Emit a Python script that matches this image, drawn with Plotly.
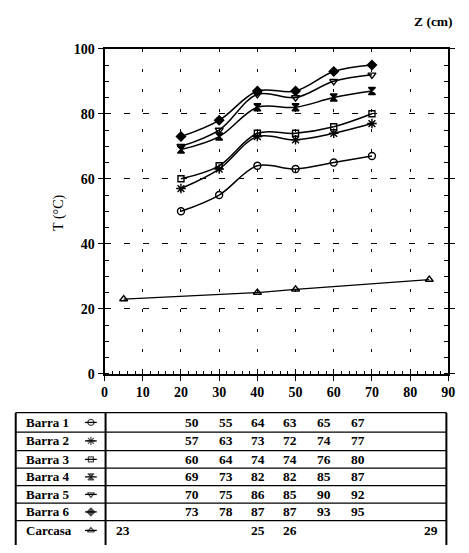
import plotly.graph_objects as go

# Temperature profiles along the bar axis (Z in cm, T in degC)
z_bar = [20, 30, 40, 50, 60, 70]
barra1 = [50, 55, 64, 63, 65, 67]
barra2 = [57, 63, 73, 72, 74, 77]
barra3 = [60, 64, 74, 74, 76, 80]
barra4 = [69, 73, 82, 82, 85, 87]
barra5 = [70, 75, 86, 85, 90, 92]
barra6 = [73, 78, 87, 87, 93, 95]
z_carcasa = [5, 40, 50, 85]
carcasa = [23, 25, 26, 29]

series = [
    ("Barra 1", z_bar, barra1, "circle-open", 7),
    ("Barra 2", z_bar, barra2, "asterisk-open", 8),
    ("Barra 3", z_bar, barra3, "square-open", 6),
    ("Barra 4", z_bar, barra4, "hourglass", 7),
    ("Barra 5", z_bar, barra5, "triangle-down-open", 7),
    ("Barra 6", z_bar, barra6, "diamond", 7),
    ("Carcasa", z_carcasa, carcasa, "triangle-up-open", 7),
]

W, H = 469, 553
# plot frame in pixels
PL, PR, PT, PB = 103, 455, 43, 377
SERIF = "Liberation Serif"

fig = go.Figure()

for name, zs, ts, sym, size in series:
    fig.add_trace(go.Scatter(
        x=zs, y=ts, name=name, mode="lines+markers",
        line=dict(color="black", width=1.5 if name != "Carcasa" else 1.2,
                  shape="linear" if name == "Carcasa" else "spline", smoothing=1.0),
        marker=dict(symbol=sym, size=size, color="black",
                    line=dict(color="black", width=1.4)),
        showlegend=False, xaxis="x", yaxis="y",
    ))

# ---- data table below the chart (pixel-space axes) ----
row_mid = [427, 446, 465, 483, 501, 519, 538]
row_lines = [417, 437, 456, 474, 492, 510, 528]
col_px = {5: 122, 20: 192, 30: 227, 40: 260, 50: 293, 60: 328, 70: 362, 85: 437}
TL, TD, TR = 12, 104, 453

shapes = []
for yl in row_lines:
    shapes.append(dict(type="line", xref="x3", yref="y3", x0=TL, x1=TR, y0=yl, y1=yl,
                       line=dict(color="black", width=1.3)))
for xv in (TL, TD, TR):
    shapes.append(dict(type="line", xref="x3", yref="y3", x0=xv, x1=xv, y0=row_lines[0], y1=H,
                       line=dict(color="black", width=2)))

annotations = []
for (name, zs, ts, sym, size), ym in zip(series, row_mid):
    annotations.append(dict(x=20, y=ym, xref="x3", yref="y3", text=name, showarrow=False,
                            xanchor="left", yanchor="middle",
                            font=dict(family=SERIF, size=13, color="black", weight="bold")))
    for zv, tv in zip(zs, ts):
        annotations.append(dict(x=col_px[zv], y=ym, xref="x3", yref="y3", text=str(tv),
                                showarrow=False, xanchor="center", yanchor="middle",
                                font=dict(family=SERIF, size=13.5, color="black", weight="bold")))
    fig.add_trace(go.Scatter(
        x=[83, 89, 95], y=[ym, ym, ym], mode="lines+markers",
        line=dict(color="black", width=1.3),
        marker=dict(symbol=sym, size=[0, size - 1, 0], color="black",
                    line=dict(color="black", width=1.2)),
        showlegend=False, xaxis="x3", yaxis="y3", hoverinfo="skip",
    ))

annotations.append(dict(x=462, y=15, xref="x3", yref="y3", text="Z (cm)", showarrow=False,
                        xanchor="right", yanchor="middle",
                        font=dict(family=SERIF, size=13.5, color="black", weight="bold")))
annotations.append(dict(x=57, y=212, xref="x3", yref="y3", text="T (°C)", showarrow=False,
                        textangle=-90, xanchor="center", yanchor="middle",
                        font=dict(family=SERIF, size=14, color="black")))

xdom = [PL / W, PR / W]
ydom = [(H - PB) / H, (H - PT) / H]
tick_font = dict(family=SERIF, size=14, color="black", weight="bold")

fig.update_layout(
    width=W, height=H,
    margin=dict(l=0, r=0, t=0, b=0),
    paper_bgcolor="white", plot_bgcolor="rgba(0,0,0,0)",
    xaxis=dict(domain=xdom, range=[0, 90], dtick=10, tick0=0,
               showline=True, linecolor="black", linewidth=1.5, mirror=True,
               ticks="outside", ticklen=5, tickcolor="black", tickwidth=1,
               minor=dict(ticks="inside", dtick=2, ticklen=3, tickcolor="black", showgrid=False),
               showgrid=True, gridcolor="black", gridwidth=1, griddash="3px,17px",
               zeroline=False, tickfont=tick_font, anchor="y"),
    yaxis=dict(domain=ydom, range=[0, 100], dtick=20, tick0=0,
               showline=True, linecolor="black", linewidth=2, mirror="allticks",
               ticks="outside", ticklen=5, tickcolor="black", tickwidth=1,
               minor=dict(ticks="inside", dtick=5, ticklen=4, tickcolor="black", showgrid=False),
               showgrid=True, gridcolor="black", gridwidth=1, griddash="6px,13px",
               zeroline=False, tickfont=tick_font, anchor="x"),
    xaxis2=dict(overlaying="x", range=[0, 90], dtick=10, tick0=0, ticks="inside", ticklen=5,
                tickcolor="black", showticklabels=False, showgrid=False, showline=False,
                zeroline=False, anchor="y", side="bottom"),
    yaxis2=dict(overlaying="y", range=[0, 100], dtick=20, tick0=0, ticks="inside", ticklen=5,
                tickcolor="black", showticklabels=False, showgrid=False, showline=False,
                zeroline=False, anchor="x", side="left"),
    xaxis3=dict(domain=[0, 1], range=[0, W], visible=False, fixedrange=True),
    yaxis3=dict(domain=[0, 1], range=[H, 0], visible=False, fixedrange=True, anchor="x3"),
    shapes=shapes, annotations=annotations,
)

# empty trace so the overlay tick axes are rendered
fig.add_trace(go.Scatter(x=[None], y=[None], xaxis="x2", yaxis="y2", showlegend=False))

fig.write_html("out.html")
